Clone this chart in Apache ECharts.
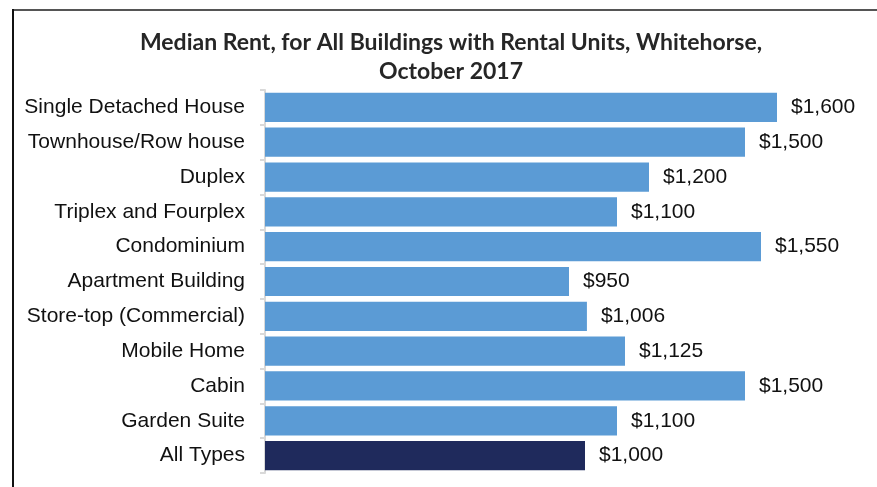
<!DOCTYPE html>
<html>
<head>
<meta charset="utf-8">
<script src="https://cdn.jsdelivr.net/npm/echarts@6/dist/echarts.min.js"></script>
<style>
  html, body { margin: 0; padding: 0; background: #fff; }
  #main { width: 877px; height: 487px; }
</style>
</head>
<body>
<div id="main"></div>
<script>
var categories = ['Single Detached House', 'Townhouse/Row house', 'Duplex', 'Triplex and Fourplex',
  'Condominium', 'Apartment Building', 'Store-top (Commercial)', 'Mobile Home', 'Cabin',
  'Garden Suite', 'All Types'];
var rents = [1600, 1500, 1200, 1100, 1550, 950, 1006, 1125, 1500, 1100, 1000];
var highlight = 'All Types';

var myChart = echarts.init(document.getElementById('main'));

var option = {
  animation: false,
  title: {
    text: 'Median Rent, for All Buildings with Rental Units, Whitehorse,\nOctober 2017',
    left: 446,
    top: 23,
    textAlign: 'center',
    textStyle: {
      fontFamily: 'Lato',
      fontWeight: 'bold',
      fontSize: 23,
      lineHeight: 29,
      color: '#262626'
    }
  },
  grid: { left: 265, right: 36, top: 90, bottom: 14 },
  xAxis: {
    type: 'value',
    min: 0,
    max: 1800,
    show: false
  },
  yAxis: {
    type: 'category',
    data: categories,
    inverse: true,
    axisLine: { lineStyle: { color: '#d9d9d9', width: 2 } },
    axisTick: { show: true, length: 5, lineStyle: { color: '#d9d9d9', width: 2 } },
    axisLabel: {
      margin: 20,
      fontFamily: 'Liberation Sans',
      fontSize: 21,
      color: '#111'
    }
  },
  series: [{
    type: 'bar',
    barCategoryGap: '16%',
    data: rents.map(function (v, i) {
      return {
        value: v,
        itemStyle: { color: categories[i] === highlight ? '#1f2a5c' : '#5b9bd5' }
      };
    }),
    label: {
      show: true,
      position: 'right',
      distance: 14,
      fontFamily: 'Liberation Sans',
      fontSize: 21,
      color: '#111',
      formatter: function (p) {
        return '$' + p.value.toLocaleString('en-US');
      }
    }
  }],
  graphic: [
    { type: 'line', shape: { x1: 12, y1: 10, x2: 877, y2: 10 }, style: { stroke: '#555', lineWidth: 2 } },
    { type: 'line', shape: { x1: 13, y1: 9, x2: 13, y2: 487 }, style: { stroke: '#111', lineWidth: 2 } }
  ]
};

myChart.setOption(option);
</script>
</body>
</html>
